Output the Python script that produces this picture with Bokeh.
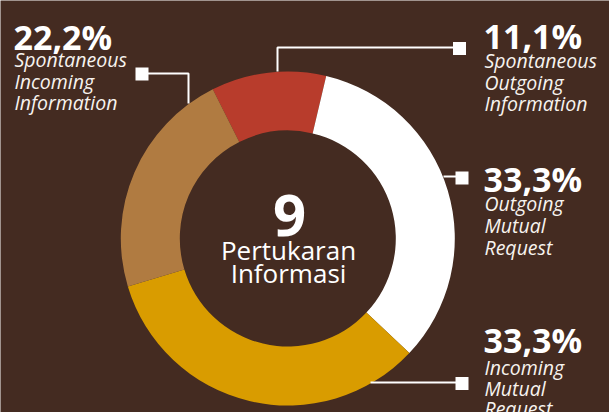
import numpy as np
from bokeh.plotting import figure
from bokeh.models import ColumnDataSource, Range1d
from bokeh.core.properties import value
from bokeh.embed import file_html
from bokeh.resources import INLINE

# ---- data ----
categories = ["Spontaneous Outgoing Information", "Outgoing Mutual Request",
              "Incoming Mutual Request", "Spontaneous Incoming Information"]
counts = [1, 3, 3, 2]
pct_labels = ["11,1%", "33,3%", "33,3%", "22,2%"]
label_lines = [["Spontaneous", "Outgoing", "Information"],
               ["Outgoing", "Mutual", "Request"],
               ["Incoming", "Mutual", "Request"],
               ["Spontaneous", "Incoming", "Information"]]
center_title = ["Pertukaran", "Informasi"]

# ---- style / layout ----
slice_colors = ["#b83c2c", "#ffffff", "#d99c00", "#b07b41"]
BG = "#442b21"
FONT = "Open Sans"
W, H = 609, 412


def Y(v):
    return H - v


CX, CY = 287.3, Y(238)
R_OUT, R_IN = 167, 108
START_DEG = 116.7

p = figure(width=W, height=H, x_range=Range1d(0, W), y_range=Range1d(0, H),
           output_backend="svg", toolbar_location=None, x_axis_type=None, y_axis_type=None,
           background_fill_color=BG, border_fill_color=BG, outline_line_color=None, min_border=0)
p.xgrid.visible = False
p.ygrid.visible = False

total = sum(counts)
cum = np.concatenate([[0], np.cumsum(counts)])
starts = np.radians(START_DEG - cum[:-1] * 360.0 / total)
ends = np.radians(START_DEG - cum[1:] * 360.0 / total)
src = ColumnDataSource(dict(cat=categories, start=starts, end=ends, color=slice_colors))
p.annular_wedge(x=CX, y=CY, inner_radius=R_IN, outer_radius=R_OUT, start_angle="start",
                end_angle="end", direction="clock", fill_color="color", line_color=None, source=src)

# callout leader lines (image pixel coordinates)
leaders = [
    ([277, 277, 459], [71, 47, 47], (459, 48)),
    ([443, 461], [176, 176], (461.5, 177.5)),
    ([370, 461], [382, 382], (461.5, 383)),
    ([188, 188, 141], [103, 73, 73], (141.5, 73.5)),
]
for xs, ys, (sx, sy) in leaders:
    p.line(xs, [Y(v) for v in ys], line_color="white", line_width=2)
    p.scatter([sx], [Y(sy)], marker="square", size=13, fill_color="white", line_color=None)

# labels: (x, pct baseline, line baselines)
label_pos = [
    (483, 35, [60, 82, 103]),
    (483, 178, [203, 225, 247]),
    (483, 339, [367, 388, 408]),
    (13, 36, [59, 81, 102]),
]
for (lx, pb, lbs), pct, lines in zip(label_pos, pct_labels, label_lines):
    p.text([lx], [Y(pb)], text=[pct], text_color="white", text_font=value(FONT),
           text_font_style="bold", text_font_size="34px", text_baseline="alphabetic",
           text_align="left")
    p.text([lx + 1] * len(lines), [Y(b) for b in lbs], text=lines, text_color="#f7f3ef",
           text_font=value(FONT), text_font_style="italic", text_font_size="19.5px",
           text_baseline="alphabetic", text_align="left")

# centre text
p.text([289], [Y(215)], text=[str(total)], text_color="white", text_font=value(FONT),
       text_font_style="bold", text_font_size="58px", text_baseline="alphabetic", text_align="center")
p.text([288, 288], [Y(249), Y(272)], text=center_title, text_color="white", text_font=value(FONT),
       text_font_size="26px", text_baseline="alphabetic", text_align="center")

open("out.html", "w").write(file_html(p, INLINE))
